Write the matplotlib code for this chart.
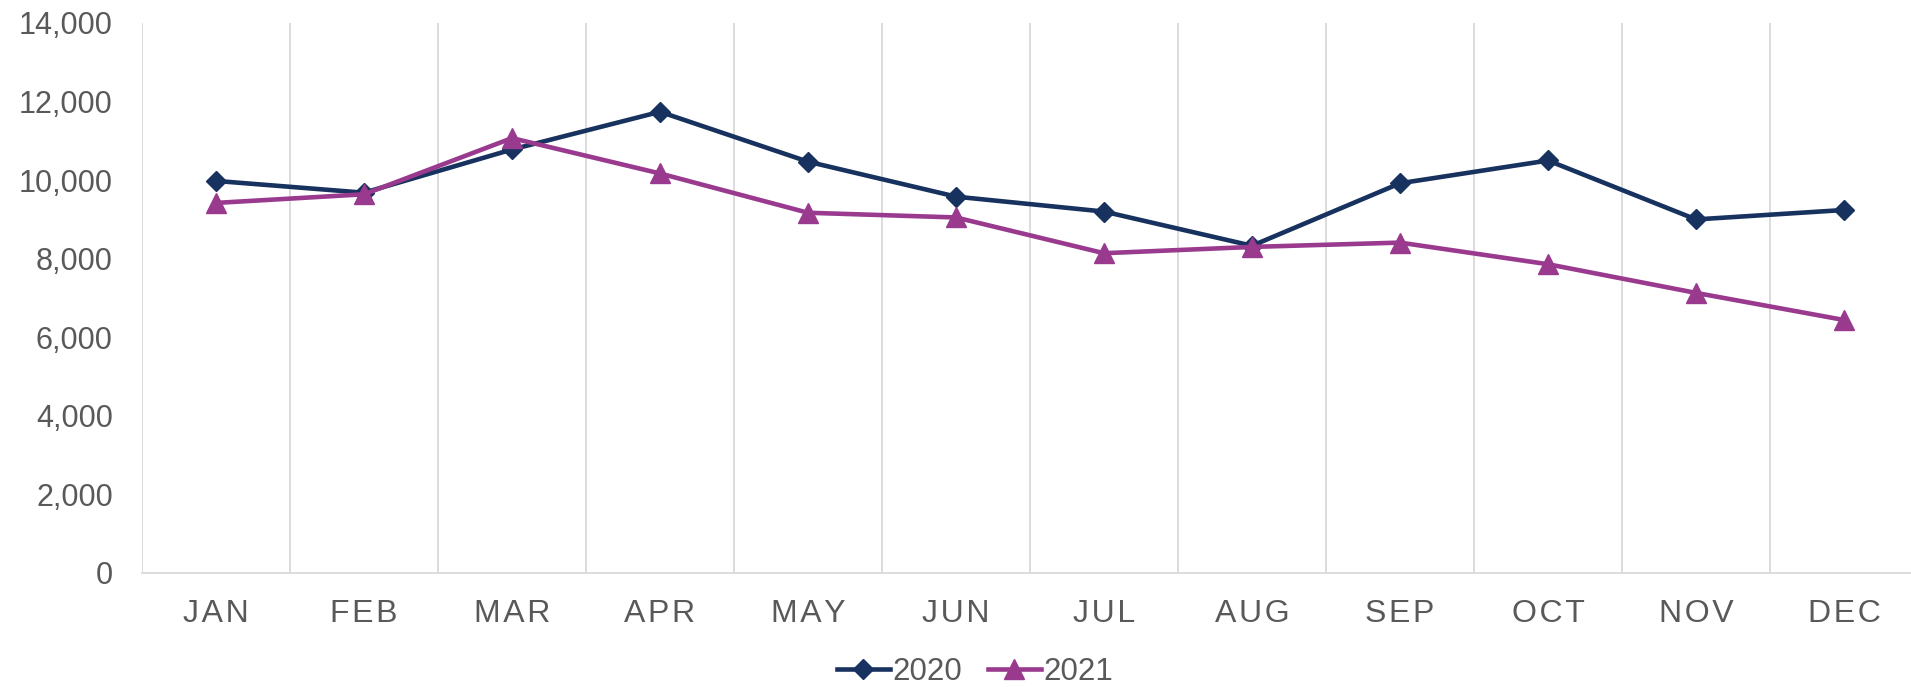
import numpy as np
import matplotlib
matplotlib.use("Agg")
from matplotlib import pyplot as plt
from matplotlib.ticker import FuncFormatter

plt.rcParams['font.family'] = ['Liberation Sans', 'DejaVu Sans']

months = ["JAN", "FEB", "MAR", "APR", "MAY", "JUN",
          "JUL", "AUG", "SEP", "OCT", "NOV", "DEC"]
values_2020 = [9980, 9680, 10780, 11740, 10470, 9580,
               9200, 8330, 9920, 10500, 9000, 9240]
values_2021 = [9420, 9640, 11070, 10170, 9170, 9050,
               8140, 8300, 8410, 7860, 7130, 6440]

navy = "#17325e"
purple = "#993a8f"
grid_c = "#d9d9d9"
text_c = "#595959"

fig = plt.figure(figsize=(19.11, 6.87), dpi=100)
fig.set_facecolor('w')
ax = fig.add_axes([142/1911, 1 - 573/687, 1769/1911, 550/687])

x = np.arange(len(months))
ax.plot(x, values_2020, c=navy, lw=3.3, marker="D", ms=10, label="2020")
ax.plot(x, values_2021, c=purple, lw=3.3, marker="^", ms=14, label="2021")

# vertical separators between months
for b in np.arange(-0.5, len(months), 1.0):
    ax.axvline(b, c=grid_c, lw=1.3, zorder=0)

ax.set_xlim(-0.5, -0.5 + 1769/148)
ax.set_ylim(0, 14000)
ax.set_yticks(np.arange(0, 14001, 2000))
ax.yaxis.set_major_formatter(FuncFormatter(lambda v, p: f"{int(v):,}"))
ax.set_xticks(x)
# spaced-out month labels
ax.set_xticklabels(["\u200a".join(m) for m in months])

for s in ["top", "right", "left"]:
    ax.spines[s].set_visible(False)
ax.spines["bottom"].set_color(grid_c)
ax.spines["bottom"].set_linewidth(1.3)
ax.tick_params(axis="both", length=0, colors=text_c)
ax.tick_params(axis="y", pad=21, labelsize=22)
ax.tick_params(axis="x", pad=19, labelsize=23)

leg = fig.legend(loc="center", bbox_to_anchor=(975/1911, 1 - 672/687), ncol=2,
                 frameon=False, fontsize=22.5, handlelength=1.7,
                 handletextpad=0.1, columnspacing=0.8)
for t in leg.get_texts():
    t.set_color(text_c)

plt.savefig("out.png", dpi=100, facecolor='w')
